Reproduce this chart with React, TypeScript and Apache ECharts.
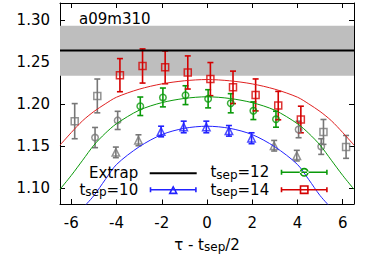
import React, { useEffect, useRef } from 'react';
import * as echarts from 'echarts';

const FONT = "'DejaVu Sans', sans-serif";

// Axes
const xTicks = [-6, -4, -2, 0, 2, 4, 6];
const yTicks = [1.1, 1.15, 1.2, 1.25, 1.3];
const xRange = [-6.5, 6.5];
const yRange = [1.081, 1.32];

const ensembleLabel = 'a09m310';

// Extrapolated value and its error band
const extrapValue = 1.2634;
const extrapBand = [1.2335, 1.293];

// t_sep = 10 (blue)
const shift10 = -0.03;
const x10 = [-2, -1, 0, 1, 2];
const y10 = [1.1672, 1.1726, 1.1726, 1.168, 1.1592];
const e10 = [0.0063, 0.0069, 0.0069, 0.0063, 0.0065];
const x10Out = [-4, -3, 3, 4];
const y10Out = [1.1424, 1.1568, 1.1503, 1.1385];
const e10Out = [0.0063, 0.0065, 0.0063, 0.0063];
const fitX10 = [-5.5, -5, -4.5, -4, -3, -2, -1, 0, 1, 2, 3, 4, 4.5, 5, 5.5];
const fitY10 = [1.076, 1.091, 1.11, 1.128, 1.149, 1.1635, 1.171, 1.1735, 1.171, 1.1635, 1.149, 1.128, 1.11, 1.091, 1.076];

// t_sep = 12 (green)
const shift12 = 0.05;
const x12 = [-3, -2, -1, 0, 1, 2, 3];
const y12 = [1.1972, 1.2077, 1.2104, 1.2061, 1.2008, 1.1919, 1.1818];
const e12 = [0.011, 0.0112, 0.0112, 0.0108, 0.0114, 0.0105, 0.0095];
const x12Out = [-5, -4, 4, 5];
const y12Out = [1.16, 1.1804, 1.1696, 1.1493];
const e12Out = [0.012, 0.0108, 0.0098, 0.0093];
const fitX12 = [-6.5, -6, -5.5, -5, -4.5, -4, -3, -2, -1, 0, 1, 2, 3, 4, 4.5, 5, 5.5, 6, 6.5];
const fitY12 = [1.0985, 1.115, 1.133, 1.151, 1.165, 1.1765, 1.1925, 1.2015, 1.2065, 1.2085, 1.2065, 1.2015, 1.1925, 1.1765, 1.165, 1.151, 1.133, 1.115, 1.0985];

// t_sep = 14 (red)
const shift14 = 0.15;
const x14 = [-4, -3, -2, -1, 0, 1, 2, 3, 4];
const y14 = [1.2342, 1.2451, 1.2435, 1.2374, 1.2295, 1.2197, 1.2107, 1.198, 1.1815];
const e14 = [0.0197, 0.0203, 0.0195, 0.0197, 0.0197, 0.0193, 0.019, 0.0169, 0.0158];
const x14Out = [-6, -5, 5, 6];
const y14Out = [1.1795, 1.2095, 1.1667, 1.1489];
const e14Out = [0.0209, 0.0201, 0.0148, 0.0136];
const fitX14 = [-6.5, -6, -5.5, -5, -4.5, -4, -3, -2, -1, 0, 1, 2, 3, 4, 4.5, 5, 5.5, 6, 6.5];
const fitY14 = [1.151, 1.166, 1.18, 1.191, 1.2, 1.208, 1.2175, 1.2238, 1.2275, 1.229, 1.2275, 1.2238, 1.2175, 1.208, 1.2, 1.191, 1.18, 1.166, 1.151];

const RED = '#d40000';
const GREEN = '#0a9a0a';
const BLUE = '#2222ff';
const GRAY = '#777777';

const ICON_LINE = 'path://M0 4H47V6H0Z';
const ICON_SQUARE =
  'path://M0 4.2H47V5.8H0Z M0 2.5H1.6V7.5H0Z M45.4 2.5H47V7.5H45.4Z M19 0.5H28V9.5H19Z M20.6 2.1V7.9H26.4V2.1Z';
const ICON_CIRCLE =
  'path://M0 4.2H47V5.8H0Z M0 2.5H1.6V7.5H0Z M45.4 2.5H47V7.5H45.4Z M19 5A4.5 4.5 0 1 0 28 5A4.5 4.5 0 1 0 19 5Z M20.6 5A2.9 2.9 0 1 1 26.4 5A2.9 2.9 0 1 1 20.6 5Z';
const ICON_TRIANGLE =
  'path://M0 4.2H47V5.8H0Z M0 2.5H1.6V7.5H0Z M45.4 2.5H47V7.5H45.4Z M23.5 0.5L28.3 9.5H18.7Z M23.5 3.8L21.4 7.9H25.6Z';

function errorBars(name: string, color: string, xs: number[], ys: number[], es: number[], shift: number) {
  return {
    type: 'custom',
    name,
    clip: true,
    itemStyle: { color },
    encode: { x: 0, y: [1, 2] },
    data: xs.map((x, i) => [x + shift, ys[i] - es[i], ys[i] + es[i]]),
    renderItem: (_params: any, api: any) => {
      const x = api.value(0);
      const lo = api.value(1);
      const hi = api.value(2);
      const top = api.coord([x, hi]);
      const bot = api.coord([x, lo]);
      const cw = 3;
      const style = { stroke: color, lineWidth: 1.6, fill: null };
      return {
        type: 'group',
        children: [
          { type: 'line', shape: { x1: top[0], y1: top[1], x2: bot[0], y2: bot[1] }, style },
          { type: 'line', shape: { x1: top[0] - cw, y1: top[1], x2: top[0] + cw, y2: top[1] }, style },
          { type: 'line', shape: { x1: bot[0] - cw, y1: bot[1], x2: bot[0] + cw, y2: bot[1] }, style },
        ],
      };
    },
  };
}

function markers(name: string, color: string, symbol: string, size: number, xs: number[], ys: number[], shift: number) {
  return {
    type: 'scatter',
    name,
    symbol,
    symbolSize: size,
    silent: true,
    itemStyle: { color: 'rgba(0,0,0,0)', borderColor: color, borderWidth: 1.5 },
    data: xs.map((x, i) => [x + shift, ys[i]]),
  };
}

function fitLine(name: string, color: string, xs: number[], ys: number[]) {
  return {
    type: 'line',
    name,
    smooth: 0.3,
    symbol: 'none',
    silent: true,
    clip: true,
    lineStyle: { color, width: 1 },
    data: xs.map((x, i) => [x, ys[i]]),
  };
}

const rich = {
  t: { fontFamily: FONT, fontSize: 15, color: '#000', lineHeight: 17 },
  s: { fontFamily: FONT, fontSize: 12, color: '#000', lineHeight: 0.5, verticalAlign: 'bottom' },
  e: { fontFamily: FONT, fontSize: 15, color: '#000', lineHeight: 17, padding: [0, 6.5, 0, 0] },
  x: { fontFamily: FONT, fontSize: 15, color: '#000', lineHeight: 15, padding: [0, 6.5, 0, 0] },
};

function legendFormatter(name: string) {
  if (name === 'Extrap') return '{x|Extrap}';
  const v = name.split('=')[1];
  return `{t|t}{s|sep}{e|=${v}}`;
}

const legendCommon = {
  orient: 'horizontal',
  align: 'right',
  padding: 0,
  itemGap: 0,
  itemWidth: 47,
  itemHeight: 10,
  selectedMode: false,
  itemStyle: { borderWidth: 0 },
  textStyle: { fontFamily: FONT, fontSize: 15, color: '#000', rich },
  formatter: legendFormatter,
};

export default function App() {
  const ref = useRef<HTMLDivElement>(null);
  useEffect(() => {
    if (!ref.current) return;
    const chart = echarts.init(ref.current, null, { renderer: 'svg' });
    const axisLine = { show: true, onZero: false, lineStyle: { color: '#000', width: 1 } };
    const labelStyle = { fontFamily: FONT, fontSize: 15, color: '#000' };
    chart.setOption({
      animation: false,
      backgroundColor: '#fff',
      title: {
        text: ensembleLabel,
        left: 79,
        top: 11,
        padding: 0,
        textStyle: { fontFamily: FONT, fontSize: 15, fontWeight: 'normal', color: '#000' },
      },
      grid: { left: 60, right: 21, top: 3, bottom: 58, containLabel: false, outerBoundsMode: 'none' },
      xAxis: [
        {
          type: 'value',
          min: xRange[0],
          max: xRange[1],
          position: 'bottom',
          axisLine,
          axisTick: { show: true, inside: true, length: 5, customValues: xTicks, lineStyle: { color: '#000' } },
          axisLabel: { show: true, customValues: xTicks, margin: 11, ...labelStyle },
          splitLine: { show: false },
          name: '{t|τ - t}{s|sep}{t|/2}',
          nameLocation: 'middle',
          nameGap: 32,
          nameMoveOverlap: false,
          nameTextStyle: { ...labelStyle, rich },
        },
        {
          type: 'value',
          min: xRange[0],
          max: xRange[1],
          position: 'top',
          axisLine,
          axisTick: { show: true, inside: true, length: 5, customValues: xTicks, lineStyle: { color: '#000' } },
          axisLabel: { show: false },
          splitLine: { show: false },
        },
      ],
      yAxis: [
        {
          type: 'value',
          min: yRange[0],
          max: yRange[1],
          position: 'left',
          axisLine,
          axisTick: { show: true, inside: true, length: 5, customValues: yTicks, lineStyle: { color: '#000' } },
          axisLabel: {
            show: true,
            customValues: yTicks,
            margin: 10,
            formatter: (v: number) => v.toFixed(2),
            ...labelStyle,
          },
          splitLine: { show: false },
        },
        {
          type: 'value',
          min: yRange[0],
          max: yRange[1],
          position: 'right',
          axisLine,
          axisTick: { show: true, inside: true, length: 5, customValues: yTicks, lineStyle: { color: '#000' } },
          axisLabel: { show: false },
          splitLine: { show: false },
        },
      ],
      legend: [
        { ...legendCommon, right: 375 - 196.7, top: 165.8, data: [{ name: 'Extrap', icon: ICON_LINE }] },
        { ...legendCommon, right: 375 - 196.7, top: 182.2, data: [{ name: 't_sep=10', icon: ICON_TRIANGLE }] },
        { ...legendCommon, right: 375 - 327.7, top: 164.8, data: [{ name: 't_sep=12', icon: ICON_CIRCLE }] },
        { ...legendCommon, right: 375 - 327.7, top: 182.2, data: [{ name: 't_sep=14', icon: ICON_SQUARE }] },
      ],
      graphic: [
        { type: 'rect', z: 3, silent: true, shape: { x: 80, y: 163, width: 250, height: 36.5 }, style: { fill: '#fff' } },
      ],
      series: [
        {
          type: 'line',
          name: 'Extrap',
          symbol: 'none',
          silent: true,
          lineStyle: { color: '#000', width: 2 },
          itemStyle: { color: '#000' },
          data: [
            [xRange[0], extrapValue],
            [xRange[1], extrapValue],
          ],
          markArea: {
            silent: true,
            itemStyle: { color: '#bebebe' },
            data: [[{ yAxis: extrapBand[0] }, { yAxis: extrapBand[1] }]],
          },
        },
        fitLine('fit10', BLUE, fitX10, fitY10),
        fitLine('fit12', GREEN, fitX12, fitY12),
        fitLine('fit14', '#e02020', fitX14, fitY14),
        errorBars('gray10', GRAY, x10Out, y10Out, e10Out, shift10),
        markers('gm10', GRAY, 'triangle', 7.5, x10Out, y10Out, shift10),
        errorBars('gray12', GRAY, x12Out, y12Out, e12Out, shift12),
        markers('gm12', GRAY, 'circle', 6.5, x12Out, y12Out, shift12),
        errorBars('gray14', GRAY, x14Out, y14Out, e14Out, shift14),
        markers('gm14', GRAY, 'rect', 7, x14Out, y14Out, shift14),
        errorBars('t_sep=10', BLUE, x10, y10, e10, shift10),
        markers('m10', BLUE, 'triangle', 7.5, x10, y10, shift10),
        errorBars('t_sep=12', GREEN, x12, y12, e12, shift12),
        markers('m12', GREEN, 'circle', 6.5, x12, y12, shift12),
        errorBars('t_sep=14', RED, x14, y14, e14, shift14),
        markers('m14', RED, 'rect', 7, x14, y14, shift14),
      ],
    });
    return () => chart.dispose();
  }, []);
  return <div ref={ref} style={{ position: 'fixed', left: 0, top: 0, width: 375, height: 262, background: '#fff' }} />;
}
